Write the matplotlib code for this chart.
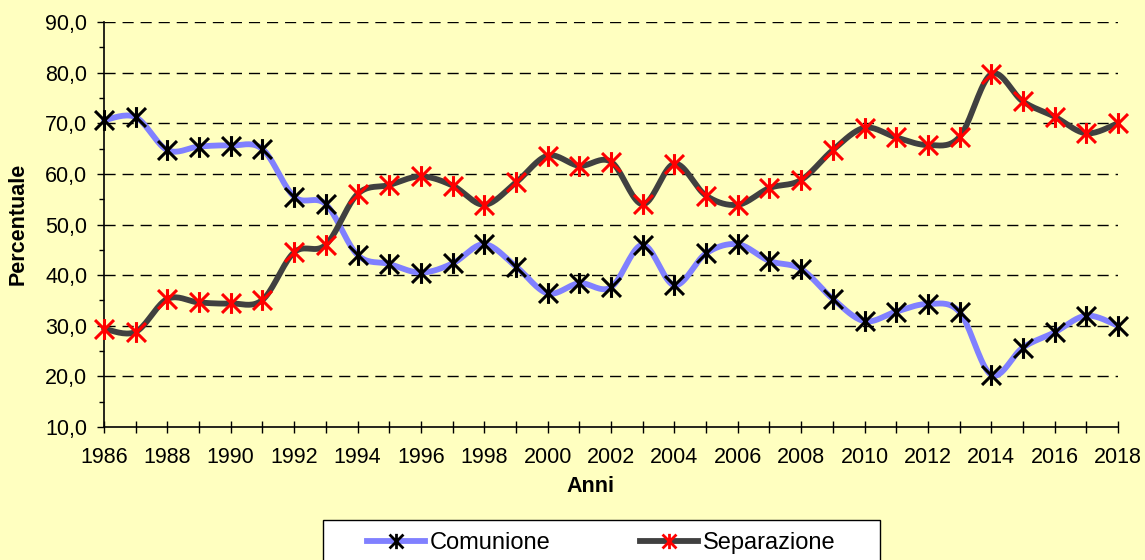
import matplotlib

matplotlib.use("Agg")

import numpy as np
import matplotlib.pyplot as plt
from matplotlib.path import Path
from matplotlib.lines import Line2D
from matplotlib.patches import Rectangle
from matplotlib.ticker import MultipleLocator, FuncFormatter


YEARS = list(range(1986, 2019))

COMUNIONE = [
    70.6, 71.2, 64.7, 65.4, 65.6, 64.9, 55.5, 54.0, 44.0, 42.2,
    40.5, 42.3, 46.1, 41.7, 36.4, 38.4, 37.6, 46.0, 38.0, 44.3,
    46.1, 42.8, 41.2, 35.3, 30.9, 32.8, 34.3, 32.7, 20.3, 25.7,
    28.7, 32.0, 30.0,
]

SEPARAZIONE = [
    29.4, 28.8, 35.3, 34.6, 34.4, 35.1, 44.5, 46.0, 56.0, 57.8,
    59.5, 57.7, 53.9, 58.3, 63.6, 61.6, 62.4, 54.0, 62.0, 55.7,
    53.9, 57.2, 58.8, 64.7, 69.1, 67.2, 65.7, 67.3, 79.7, 74.3,
    71.3, 68.0, 70.0,
]

BACKGROUND = "#FFFFC0"
W, H = 1145, 560

# asterisk marker: an X plus a vertical bar
ASTERISK = Path(
    [(-1, -1), (1, 1), (-1, 1), (1, -1), (0, -1.1), (0, 1.1)],
    [Path.MOVETO, Path.LINETO, Path.MOVETO, Path.LINETO, Path.MOVETO, Path.LINETO],
)


def smooth(xs, ys, steps=20):
    # Bezier smoothing similar to spreadsheet "smoothed line"
    p = np.column_stack([xs, ys]).astype(float)
    ext = np.vstack([p[0], p, p[-1]])
    t = np.linspace(0, 1, steps)[:, None]
    out = []
    for i in range(len(p) - 1):
        p0, p1 = ext[i + 1], ext[i + 2]
        c1 = p0 + (ext[i + 2] - ext[i]) / 6
        c2 = p1 - (ext[i + 3] - ext[i + 1]) / 6
        seg = ((1 - t) ** 3) * p0 + 3 * ((1 - t) ** 2) * t * c1 + 3 * (1 - t) * t ** 2 * c2 + t ** 3 * p1
        out.append(seg if i == 0 else seg[1:])
    out = np.vstack(out)
    return out[:, 0], out[:, 1]


def main() -> None:
    plt.rcParams["font.family"] = ["Liberation Sans", "DejaVu Sans"]

    fig = plt.figure(figsize=(W / 100, H / 100), dpi=100, facecolor=BACKGROUND)
    ax = fig.add_axes([104 / W, 1 - 427 / H, 1014 / W, 405 / H])
    ax.set_facecolor(BACKGROUND)

    series = [
        ("Comunione", COMUNIONE, "#8080FF", "black"),
        ("Separazione", SEPARAZIONE, "#404040", "#FF0000"),
    ]
    for label, values, line_color, marker_color in series:
        sx, sy = smooth(YEARS, values)
        ax.plot(sx, sy, color=line_color, linewidth=4.2, solid_capstyle="round",
                clip_on=False, zorder=3)
        ax.plot(YEARS, values, linestyle="none", marker=ASTERISK, markersize=15,
                markeredgewidth=2.2, markeredgecolor=marker_color,
                markerfacecolor="none", clip_on=False, zorder=4)

    ax.set_xlim(1986, 2018)
    ax.set_ylim(10, 90)

    ax.yaxis.set_major_locator(MultipleLocator(10))
    ax.yaxis.set_minor_locator(MultipleLocator(5))
    ax.yaxis.set_major_formatter(FuncFormatter(lambda v, _: f"{v:.1f}".replace(".", ",")))
    ax.xaxis.set_major_locator(MultipleLocator(2))
    ax.xaxis.set_minor_locator(MultipleLocator(1))
    ax.xaxis.set_major_formatter(FuncFormatter(lambda v, _: f"{int(v)}"))

    ax.tick_params(axis="y", which="major", direction="out", length=5, width=1,
                   labelsize=15.5, pad=7)
    ax.tick_params(axis="y", which="minor", direction="out", length=3.5, width=1)
    ax.tick_params(axis="x", which="both", direction="inout", length=9, width=1,
                   labelsize=15.5, pad=10)

    for spine in ("top", "right"):
        ax.spines[spine].set_visible(False)
    for spine in ("left", "bottom"):
        ax.spines[spine].set_linewidth(1.2)

    for yv in range(20, 100, 10):
        ax.axhline(yv, color="black", linewidth=1, linestyle=(0, (8, 5)), zorder=1)

    fig.text(18 / W, 1 - 224 / H, "Percentuale", rotation=90, ha="center",
             va="center", fontsize=15.5, fontweight="bold")
    fig.text(590 / W, 1 - 487 / H, "Anni", ha="center", va="center",
             fontsize=15.5, fontweight="bold")

    # legend box, running off the bottom edge
    fig.patches.append(Rectangle((323 / W, -0.05), 557 / W, 0.05 + 40 / H,
                                 transform=fig.transFigure, facecolor="white",
                                 edgecolor="black", linewidth=1, zorder=5))
    handles = [
        Line2D([], [], color=c, linewidth=4.2, marker=ASTERISK, markersize=11,
               markeredgewidth=2, markeredgecolor=m, markerfacecolor="none")
        for _, _, c, m in series
    ]
    leg = fig.legend(
        handles, [s[0] for s in series], loc="center", ncol=2,
        bbox_to_anchor=(601 / W, 1 - 543 / H), fontsize=17,
        frameon=False, handlelength=2.45, handletextpad=0.2,
        columnspacing=3.8, borderpad=0.0,
    )
    leg.set_zorder(6)

    fig.savefig("out.png", dpi=100, facecolor=BACKGROUND)
    plt.close(fig)


if __name__ == "__main__":
    main()
